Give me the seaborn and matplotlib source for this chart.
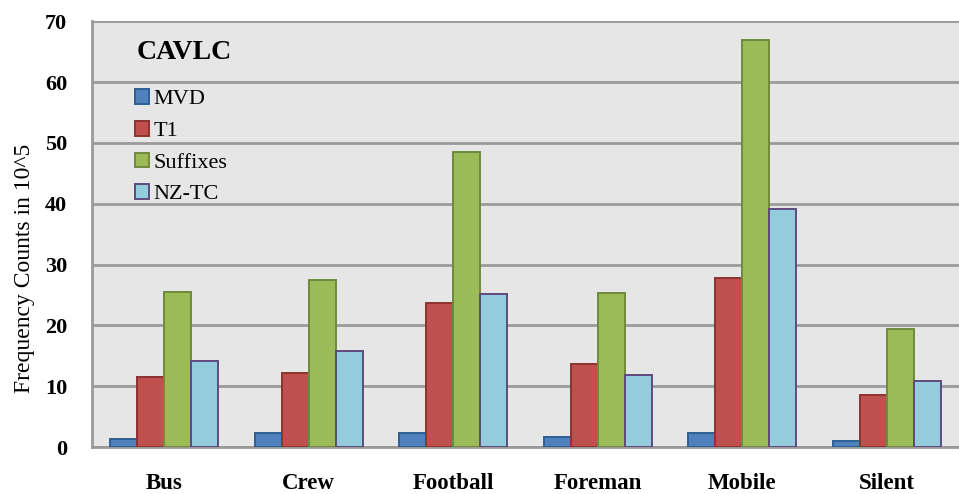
import pandas as pd
import numpy as np
import matplotlib
matplotlib.use("Agg")
import matplotlib.pyplot as plt
import seaborn as sns

# values (x 10^5)
sequences = ["Bus", "Crew", "Football", "Foreman", "Mobile", "Silent"]
mvd = [1.3, 2.3, 2.3, 1.6, 2.3, 1.0]
t1 = [11.5, 12.2, 23.7, 13.6, 27.8, 8.6]
suffixes = [25.5, 27.5, 48.5, 25.4, 66.9, 19.4]
nz_tc = [14.1, 15.8, 25.2, 11.8, 39.2, 10.9]

series = ["MVD", "T1", "Suffixes", "NZ-TC"]
df = pd.DataFrame({"MVD": mvd, "T1": t1, "Suffixes": suffixes, "NZ-TC": nz_tc},
                  index=sequences)
df = df.reset_index().melt(id_vars="index", var_name="series", value_name="count")
df = df.rename(columns={"index": "sequence"})

fills = ["#4F81BD", "#C0504D", "#9BBB59", "#93CDDD"]
edges = ["#2F5F95", "#8C3330", "#6F8A3A", "#5F4A7E"]

sns.set_style("white")
plt.rcParams["font.family"] = ["Liberation Serif", "DejaVu Serif"]
plt.rcParams["text.color"] = "black"
plt.rcParams["axes.labelcolor"] = "black"
plt.rcParams["xtick.labelcolor"] = "black"
plt.rcParams["ytick.labelcolor"] = "black"

fig = plt.figure(figsize=(9.59, 4.94), dpi=100)
ax = fig.add_axes([0.096, 0.095, 0.904, 0.862])
ax.set_facecolor("#E6E6E6")

sns.barplot(data=df, x="sequence", y="count", hue="series", order=sequences,
            hue_order=series, palette=fills, width=0.75, gap=0, ax=ax,
            saturation=1, linewidth=1.4)

for i, cont in enumerate(ax.containers):
    for bar in cont:
        bar.set_edgecolor(edges[i])
        bar.set_zorder(3)

ax.set_ylim(0, 70)
ax.set_xlim(-0.5, 5.5)
ax.set_yticks(range(0, 71, 10))
ax.yaxis.grid(True, color="#9A9A9A", linewidth=2, zorder=0)
ax.set_axisbelow(True)

for s in ["top", "right"]:
    ax.spines[s].set_visible(False)
for s in ["left", "bottom"]:
    ax.spines[s].set_color("#9A9A9A")
    ax.spines[s].set_linewidth(2)

ax.tick_params(axis="y", direction="out", length=7, width=1.8, color="#9A9A9A",
               labelsize=16, pad=11, labelcolor="black")
ax.tick_params(axis="x", which="major", length=0, labelsize=16.5, pad=19,
               labelcolor="black")
ax.set_xticks(np.arange(-0.5, 6.0, 1.0), minor=True)
ax.tick_params(axis="x", which="minor", direction="out", length=4, width=1.2,
               color="#9A9A9A")
for lab in ax.get_xticklabels() + ax.get_yticklabels():
    lab.set_fontweight("bold")

ax.set_xlabel("")
ax.set_ylabel("Frequency Counts in 10^5", fontsize=17, color="black")
ax.yaxis.label.set_va("center")
ax.yaxis.set_label_coords(-0.078, 0.42)

# legend title drawn as its own text, entries below it
ax.text(0.1067, 0.927, "CAVLC", transform=ax.transAxes, ha="center",
        va="center", fontsize=20, fontweight="bold", color="black")
leg = ax.legend(loc="upper left", frameon=False, fontsize=16,
                handlelength=0.63, handleheight=0.63, handletextpad=0.2,
                labelspacing=0.52, borderpad=0, borderaxespad=0,
                bbox_to_anchor=(0.0496, 0.84), labelcolor="black")
for h, e in zip(leg.legend_handles, edges):
    h.set_edgecolor(e)
    h.set_linewidth(1.4)

plt.savefig("out.png", dpi=100)
